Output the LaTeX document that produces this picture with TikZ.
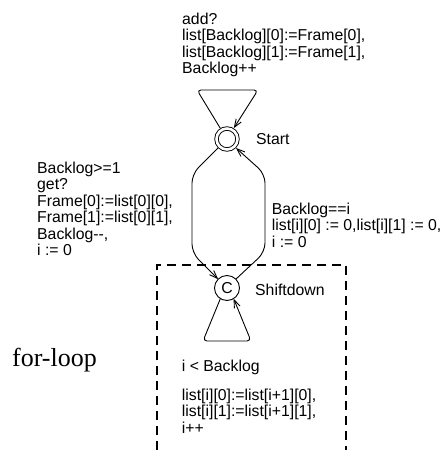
\documentclass[tikz,border=0pt]{standalone}
\usepackage{fontspec}
\setmainfont{Liberation Sans}
\newfontfamily\serifface{Liberation Serif}
\usetikzlibrary{arrows.meta}
\begin{document}
\begin{tikzpicture}[x=1pt,y=-1pt,
  lbl/.style={font=\fontsize{15.8}{16.5}\selectfont, align=left, inner sep=0pt, anchor=north west},
  namelbl/.style={font=\fontsize{15.8}{16.5}\selectfont, inner sep=0pt, anchor=base west},
  edgeline/.style={line width=0.9pt, rounded corners=9pt},
  looplines/.style={line width=0.9pt, rounded corners=4pt},
  arr/.style={-{Straight Barb[length=8pt,width=6pt]}},
  loc/.style={circle, draw, line width=0.9pt, minimum size=25pt, inner sep=0pt, outer sep=0pt}]
\useasboundingbox (0,0) rectangle (443,450);
% locations
\node[loc, minimum size=21pt, double, double distance=2.6pt, outer sep=2.2pt] (start) at (227,139) {};
\node[loc, font=\fontsize{15.8}{16.5}\selectfont] (shift) at (227,288) {C};
% self loops
\draw[looplines, arr] (start.122) -- (197,90) -- (258,90) -- (start.58);
\draw[looplines, arr] (shift.238) -- (203,341) -- (251,341) -- (shift.302);
% edges between locations
\draw[edgeline, arr] (start.225) -- (192,174) -- (192,253) -- (shift.135);
\draw[edgeline, arr] (shift.45) -- (265,252) -- (265,174) -- (start.315);
% dashed box
\draw[line width=1.6pt, dash pattern=on 9pt off 6pt] (157,450) -- (157,265) -- (346,265) -- (346,450);
% labels
\node[lbl] (addlbl) at (182,12.5) {add?\\list[Backlog][0]:=Frame[0],\\list[Backlog][1]:=Frame[1],\\Backlog++};
\node[lbl] (getlbl) at (37,161.5) {Backlog>=1\\get?\\Frame[0]:=list[0][0],\\Frame[1]:=list[0][1],\\Backlog-{}-,\\i := 0};
\node[lbl] (backlbl) at (271.7,202.5) {Backlog==i\\list[i][0] := 0,list[i][1] := 0,\\i := 0};
\node[lbl] (guardlbl) at (181.7,359.5) {i < Backlog};
\node[lbl] (updlbl) at (181.7,388.5) {list[i][0]:=list[i+1][0],\\list[i][1]:=list[i+1][1],\\i++};
\node[namelbl] (startlbl) at (256,144.5) {Start};
\node[namelbl] (shiftlbl) at (255,295) {Shiftdown};
\node[font=\serifface\fontsize{26}{26}\selectfont, anchor=base west, inner sep=0pt] (forlbl) at (12,366) {for-loop};
\end{tikzpicture}
\end{document}
